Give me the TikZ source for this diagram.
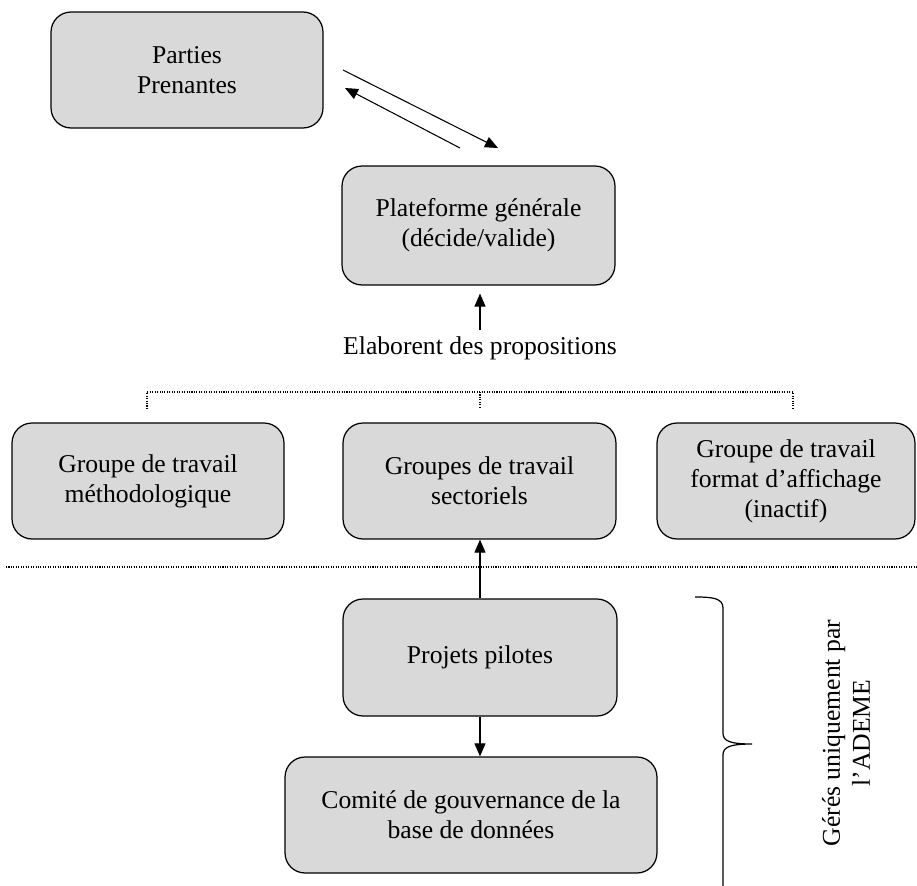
\documentclass[tikz,border=0pt]{standalone}
\usepackage{fontspec}
\setmainfont{Liberation Serif}
\usetikzlibrary{arrows.meta,positioning}
\definecolor{boxgray}{RGB}{217,217,217}

\begin{document}
\begin{tikzpicture}[x=0.02cm,y=-0.02cm,font=\fontsize{14.6}{17}\selectfont,
  box/.style={draw,fill=boxgray,rounded corners=0.4cm,align=center,inner sep=0pt,
    line width=0.7pt,minimum height=2.32cm},
  arr/.style={-{Triangle[length=0.26cm,width=0.22cm]},line width=0.6pt},
  dotline/.style={dash pattern=on 0.6pt off 0.8pt,line width=0.6pt}]
  \useasboundingbox (0,0) rectangle (917,886);

  % upper part
  \node[box,minimum width=5.44cm] (pp) at (187,70) {Parties\\Prenantes};
  \node[box,minimum width=5.46cm,minimum height=2.38cm] (pg) at (478.5,225.5) {Plateforme générale\\(décide/valide)};
  \node (elab) at (480,348) {Elaborent des propositions};

  \coordinate (ppa) at (343,70);
  \coordinate (pga) at (498,148);
  \coordinate (pgb) at (460,148);
  \coordinate (ppb) at (345,88);
  \draw[arr] (ppa) -- (pga);
  \draw[arr] (pgb) -- (ppb);
  \draw[arr,shorten >=0.16cm] (elab.north) -- (elab.north |- pg.south);

  % working groups
  \node[box,minimum width=5.44cm] (g1) at (148,481) {Groupe de travail\\méthodologique};
  \node[box,minimum width=5.46cm] (g2) at (479.5,481) {Groupes de travail\\sectoriels};
  \node[box,minimum width=5.16cm] (g3) at (786,481) {Groupe de travail\\format d’affichage\\(inactif)};

  \draw[dotline] (147,409) -- (147,392) -- (793,392) -- (793,409)
    (480,392) -- (480,409);
  \draw[dotline] (6,567) -- (917,567);

  % lower part
  \node[box,minimum width=5.48cm,minimum height=2.34cm] (proj) at (480,657.5) {Projets pilotes};
  \node[box,minimum width=7.44cm] (comite) at (471,815) {Comité de gouvernance de la\\base de données};

  \draw[arr] (proj.north) -- (proj.north |- g2.south);
  \draw[arr] (proj.south) -- (proj.south |- comite.north);

  % brace and side text
  \draw[line width=0.7pt] (695,597) .. controls (712,597) and (723,598) .. (723,608)
    -- (723,733) .. controls (723,741) and (730,744) .. (752,744)
    .. controls (730,744) and (723,747) .. (723,755) -- (723,890);
  \node[rotate=90,align=center] (ademe) at (846,733) {Gérés uniquement par\\l’ADEME};
\end{tikzpicture}
\end{document}
